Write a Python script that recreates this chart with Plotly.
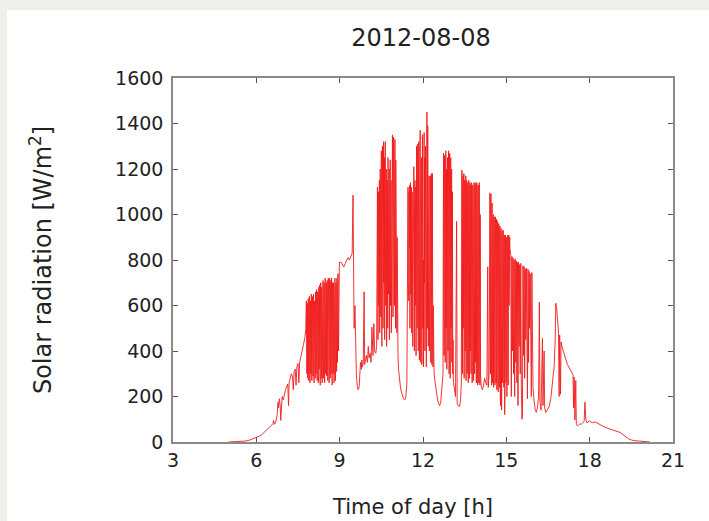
import plotly.graph_objects as go

# (hour, W/m2) readings, segment by segment
dawn = [(5.00, 0), (5.20, 1), (5.40, 2), (5.60, 4), (5.75, 8), (5.90, 14), (6.00, 18),
        (6.10, 25), (6.20, 33), (6.30, 45), (6.40, 58), (6.50, 68), (6.55, 72), (6.60, 80),
        (6.62, 95), (6.65, 78), (6.70, 88), (6.75, 120), (6.78, 175), (6.80, 150),
        (6.83, 190), (6.86, 160), (6.88, 95), (6.90, 175), (6.93, 200), (6.97, 185),
        (7.00, 210), (7.05, 230), (7.10, 245), (7.13, 255), (7.16, 160), (7.18, 260),
        (7.22, 280), (7.26, 300), (7.30, 290), (7.33, 230), (7.36, 310), (7.40, 320),
        (7.43, 250), (7.46, 330), (7.50, 345), (7.53, 260), (7.56, 350), (7.60, 370),
        (7.65, 400), (7.70, 430), (7.75, 460), (7.78, 500)]

morning = [(7.80, 620), (7.81, 480), (7.82, 300), (7.83, 560), (7.84, 610), (7.85, 280),
           (7.86, 420), (7.87, 630), (7.88, 350), (7.89, 270), (7.90, 590), (7.91, 640),
           (7.92, 400), (7.93, 260), (7.94, 520), (7.95, 620), (7.96, 300), (7.97, 450),
           (7.98, 650), (7.99, 330), (8.00, 270), (8.01, 600), (8.02, 640), (8.03, 380),
           (8.04, 290), (8.05, 560), (8.06, 650), (8.07, 300), (8.08, 260), (8.09, 620),
           (8.10, 600), (8.11, 420), (8.12, 280), (8.13, 660), (8.14, 500), (8.15, 300),
           (8.16, 640), (8.17, 670), (8.18, 350), (8.19, 270), (8.20, 600), (8.21, 660),
           (8.22, 400), (8.23, 260), (8.24, 640), (8.25, 680), (8.26, 320), (8.27, 500),
           (8.28, 690), (8.29, 300), (8.30, 250), (8.31, 650), (8.32, 700), (8.33, 420),
           (8.34, 280), (8.35, 680), (8.36, 610), (8.37, 260), (8.38, 560), (8.39, 700),
           (8.40, 710), (8.41, 350), (8.42, 280), (8.43, 640), (8.44, 700), (8.45, 450),
           (8.46, 260), (8.47, 690), (8.48, 720), (8.49, 380), (8.50, 300), (8.51, 660),
           (8.52, 700), (8.53, 290), (8.54, 500), (8.55, 710), (8.56, 640), (8.57, 270),
           (8.58, 420), (8.59, 720), (8.60, 690), (8.61, 330), (8.62, 260), (8.63, 700),
           (8.64, 720), (8.65, 400), (8.66, 280), (8.67, 650), (8.68, 710), (8.69, 300),
           (8.70, 560), (8.71, 720), (8.72, 350), (8.73, 250), (8.74, 680), (8.75, 700),
           (8.76, 460), (8.77, 300), (8.78, 700), (8.79, 640), (8.80, 260), (8.81, 380),
           (8.82, 690), (8.83, 720), (8.84, 300), (8.85, 270), (8.86, 660), (8.87, 700),
           (8.88, 420), (8.89, 310), (8.90, 720), (8.91, 680), (8.92, 350), (8.93, 480),
           (8.94, 740), (8.95, 560), (8.96, 400), (8.97, 760), (8.98, 780), (8.99, 790)]

late_morning = [(9.05, 790), (9.10, 780), (9.15, 770), (9.20, 785), (9.25, 800), (9.30, 810),
                (9.35, 800), (9.40, 820), (9.45, 830), (9.48, 1085), (9.50, 840), (9.52, 500),
                (9.55, 600), (9.57, 380), (9.60, 300), (9.63, 250), (9.66, 230), (9.70, 240),
                (9.72, 300), (9.75, 350), (9.78, 320), (9.80, 360), (9.82, 330), (9.85, 350),
                (9.88, 660), (9.90, 340), (9.93, 360), (9.96, 380), (10.00, 350), (10.03, 420),
                (10.06, 370), (10.10, 390), (10.13, 350), (10.16, 505), (10.20, 380),
                (10.23, 520), (10.26, 400), (10.30, 390), (10.33, 420)]

forenoon = [(10.35, 1000), (10.36, 1120), (10.37, 700), (10.38, 450), (10.39, 1050),
            (10.40, 1100), (10.41, 600), (10.42, 900), (10.43, 1150), (10.44, 480),
            (10.45, 800), (10.46, 1200), (10.47, 1000), (10.48, 550), (10.49, 1100),
            (10.50, 1280), (10.51, 650), (10.52, 420), (10.53, 1000), (10.54, 1300),
            (10.55, 900), (10.56, 500), (10.57, 1150), (10.58, 1320), (10.59, 700),
            (10.60, 1050), (10.61, 1250), (10.62, 450), (10.63, 1000), (10.64, 1320),
            (10.65, 800), (10.66, 600), (10.67, 1100), (10.68, 1200), (10.69, 420),
            (10.70, 900), (10.71, 1150), (10.72, 1000), (10.73, 500), (10.74, 1250),
            (10.75, 1100), (10.76, 650), (10.77, 1000), (10.78, 1200), (10.79, 450),
            (10.80, 1100), (10.81, 850), (10.82, 1240), (10.83, 600), (10.84, 1000),
            (10.85, 1150), (10.86, 480), (10.87, 900), (10.88, 1200), (10.89, 700),
            (10.90, 1350), (10.91, 1100), (10.92, 550), (10.93, 1000), (10.94, 1340),
            (10.95, 800), (10.96, 1200), (10.97, 600), (10.98, 1100), (10.99, 1330),
            (11.00, 700), (11.01, 500), (11.02, 1240), (11.03, 900), (11.04, 620),
            (11.05, 1100), (11.06, 480), (11.07, 900), (11.08, 650), (11.09, 420),
            (11.10, 380), (11.12, 320), (11.14, 290), (11.18, 250), (11.22, 220),
            (11.26, 200), (11.30, 190), (11.34, 185), (11.38, 195), (11.42, 260)]

noon = [(11.46, 1120), (11.47, 700), (11.48, 1000), (11.49, 620), (11.50, 1100), (11.51, 850),
        (11.52, 1130), (11.53, 500), (11.54, 900), (11.55, 1140), (11.56, 650), (11.57, 1000),
        (11.58, 1120), (11.59, 480), (11.60, 800), (11.61, 1100), (11.62, 900), (11.63, 420),
        (11.64, 1000), (11.65, 1130), (11.66, 700), (11.67, 1210), (11.68, 900), (11.69, 400),
        (11.70, 1050), (11.71, 1150), (11.72, 600), (11.73, 1000), (11.74, 1120), (11.75, 380),
        (11.76, 900), (11.77, 1300), (11.78, 1100), (11.79, 500), (11.80, 1250), (11.81, 1310),
        (11.82, 700), (11.83, 400), (11.84, 1200), (11.85, 1320), (11.86, 1000), (11.87, 360),
        (11.88, 800), (11.89, 1300), (11.90, 1370), (11.91, 600), (11.92, 350), (11.93, 1100),
        (11.94, 1250), (11.95, 900), (11.96, 340), (11.97, 1000), (11.98, 1350), (11.99, 500),
        (12.00, 1200), (12.01, 800), (12.02, 330), (12.03, 1100), (12.04, 1360), (12.05, 700),
        (12.06, 1250), (12.07, 400), (12.08, 1000), (12.09, 1300), (12.10, 600), (12.11, 1200),
        (12.12, 330), (12.13, 900), (12.14, 1450), (12.15, 1200), (12.16, 500), (12.17, 1390),
        (12.18, 1000), (12.19, 420), (12.20, 1100), (12.21, 800), (12.22, 1170), (12.23, 400),
        (12.24, 900), (12.25, 1150), (12.26, 650), (12.27, 1170), (12.28, 350), (12.29, 1000),
        (12.30, 1180), (12.31, 600), (12.32, 340), (12.33, 950), (12.34, 1180), (12.35, 400),
        (12.36, 330), (12.37, 600), (12.38, 320), (12.40, 300), (12.44, 260), (12.48, 220),
        (12.52, 190), (12.56, 170), (12.60, 160), (12.64, 175), (12.68, 230), (12.71, 300)]

early_afternoon = [(12.72, 300), (12.73, 900), (12.74, 1270), (12.75, 600), (12.76, 380),
                   (12.77, 1000), (12.78, 1260), (12.79, 800), (12.80, 350), (12.81, 1100),
                   (12.82, 1280), (12.83, 500), (12.84, 900), (12.85, 1200), (12.86, 320),
                   (12.87, 700), (12.88, 1250), (12.89, 1000), (12.90, 400), (12.91, 1100),
                   (12.92, 1280), (12.93, 600), (12.94, 300), (12.95, 1000), (12.96, 1270),
                   (12.97, 800), (12.98, 280), (12.99, 1200), (13.00, 1250), (13.01, 500),
                   (13.02, 900), (13.03, 1200), (13.04, 350), (13.05, 700), (13.06, 1100),
                   (13.07, 300), (13.08, 450), (13.09, 280), (13.10, 260), (13.13, 230),
                   (13.17, 200), (13.21, 970), (13.23, 170), (13.27, 160), (13.31, 155),
                   (13.35, 180), (13.38, 260)]

afternoon = [(13.40, 1195), (13.41, 700), (13.42, 300), (13.43, 1100), (13.44, 1170),
             (13.45, 500), (13.46, 900), (13.47, 1180), (13.48, 280), (13.49, 600),
             (13.50, 1150), (13.51, 1050), (13.52, 400), (13.53, 1100), (13.54, 1170),
             (13.55, 270), (13.56, 800), (13.57, 1150), (13.58, 950), (13.59, 300),
             (13.60, 1100), (13.61, 1140), (13.62, 500), (13.63, 260), (13.64, 1000),
             (13.65, 1150), (13.66, 700), (13.67, 280), (13.68, 1100), (13.69, 1140),
             (13.70, 400), (13.71, 900), (13.72, 1130), (13.73, 300), (13.74, 600),
             (13.75, 1140), (13.76, 1050), (13.77, 260), (13.78, 800), (13.79, 1130),
             (13.80, 1100), (13.81, 450), (13.82, 270), (13.83, 1000), (13.84, 1140),
             (13.85, 600), (13.86, 300), (13.87, 1120), (13.88, 1140), (13.89, 350),
             (13.90, 900), (13.91, 1130), (13.92, 260), (13.93, 700), (13.94, 1140),
             (13.95, 1100), (13.96, 400), (13.97, 250), (13.98, 1000), (13.99, 1130),
             (14.00, 500), (14.01, 260), (14.02, 1100), (14.03, 1140), (14.04, 600),
             (14.05, 250), (14.06, 1000), (14.07, 300), (14.10, 240), (14.14, 230),
             (14.18, 250), (14.22, 280), (14.26, 260), (14.30, 250), (14.33, 770),
             (14.35, 240), (14.38, 300)]

mid_afternoon = [(14.40, 1000), (14.41, 1095), (14.42, 700), (14.43, 300), (14.44, 1080),
                 (14.45, 1090), (14.46, 400), (14.47, 250), (14.48, 1000), (14.49, 1050),
                 (14.50, 600), (14.51, 260), (14.52, 990), (14.53, 1000), (14.54, 240),
                 (14.55, 500), (14.56, 990), (14.57, 980), (14.58, 300), (14.59, 250),
                 (14.60, 970), (14.61, 990), (14.62, 700), (14.63, 260), (14.64, 960),
                 (14.65, 980), (14.66, 230), (14.67, 400), (14.68, 970), (14.69, 960),
                 (14.70, 250), (14.71, 220), (14.72, 950), (14.73, 960), (14.74, 600),
                 (14.75, 240), (14.76, 940), (14.77, 950), (14.78, 200), (14.79, 160),
                 (14.80, 930), (14.81, 940), (14.82, 500), (14.83, 140), (14.84, 920),
                 (14.85, 930), (14.86, 260), (14.87, 300), (14.88, 910), (14.89, 930),
                 (14.90, 700), (14.91, 240), (14.92, 900), (14.93, 910), (14.94, 120),
                 (14.95, 200), (14.96, 900), (14.97, 910), (14.98, 400), (14.99, 260),
                 (15.00, 890), (15.01, 900), (15.02, 200), (15.03, 500), (15.04, 900),
                 (15.05, 910), (15.06, 300), (15.07, 250), (15.08, 900), (15.09, 910),
                 (15.10, 600), (15.11, 880), (15.12, 900), (15.13, 850), (15.14, 840)]

late_afternoon = [(15.16, 820), (15.18, 200), (15.20, 815), (15.22, 400), (15.24, 810),
                  (15.26, 300), (15.28, 800), (15.30, 200), (15.32, 805), (15.34, 350),
                  (15.36, 795), (15.38, 260), (15.40, 790), (15.42, 160), (15.44, 790),
                  (15.46, 420), (15.48, 780), (15.50, 300), (15.52, 785), (15.54, 250),
                  (15.56, 100), (15.58, 110), (15.60, 775), (15.62, 380), (15.64, 770),
                  (15.66, 280), (15.68, 760), (15.70, 450), (15.72, 765), (15.74, 300),
                  (15.76, 190), (15.78, 760), (15.80, 350), (15.82, 750), (15.84, 500),
                  (15.86, 740), (15.88, 300), (15.90, 200), (15.92, 745),
                  (15.94, 450), (15.96, 240), (16.00, 180), (16.04, 140), (16.08, 130),
                  (16.12, 150), (16.16, 200), (16.19, 615), (16.21, 180), (16.25, 140),
                  (16.30, 455), (16.32, 160), (16.36, 400), (16.38, 150), (16.42, 130),
                  (16.48, 140), (16.54, 155), (16.60, 190), (16.66, 250), (16.72, 330)]

evening = [(16.76, 450), (16.78, 610), (16.81, 590), (16.84, 540), (16.88, 480), (16.90, 200),
           (16.92, 470), (16.95, 210), (16.97, 440), (17.00, 420), (17.05, 400), (17.10, 370),
           (17.15, 350), (17.20, 340), (17.25, 330), (17.30, 320), (17.35, 305), (17.40, 295),
           (17.42, 150), (17.44, 285), (17.47, 97), (17.50, 270), (17.52, 75), (17.56, 72),
           (17.60, 75), (17.65, 80), (17.70, 78), (17.75, 85), (17.80, 90), (17.83, 175),
           (17.86, 100), (17.90, 85), (17.95, 90), (18.00, 92), (18.05, 88), (18.10, 85),
           (18.20, 88), (18.30, 80), (18.40, 75), (18.50, 68), (18.60, 62), (18.70, 58),
           (18.80, 54), (18.90, 50), (19.00, 48), (19.10, 42), (19.20, 32), (19.30, 22),
           (19.40, 14), (19.50, 9), (19.60, 6), (19.80, 4), (20.00, 2), (20.17, 0)]

segments = [dawn, morning, late_morning, forenoon, noon, early_afternoon,
            afternoon, mid_afternoon, late_afternoon, evening]
hours = [t for seg in segments for t, _ in seg]
radiation = [v for seg in segments for _, v in seg]

x_ticks = [3, 6, 9, 12, 15, 18, 21]
y_ticks = [0, 200, 400, 600, 800, 1000, 1200, 1400, 1600]

FONT = "DejaVu Sans"
TXT = "#222222"
fig = go.Figure()
fig.add_trace(go.Scatter(x=hours, y=radiation, mode="lines",
                         line=dict(color="#f01c1c", width=0.9), showlegend=False))

# plot area: x 173..673 px, y 78..442 px
L, R, T, B = 173, 709 - 673, 78, 521 - 442
pw, ph = 709 - L - R, 521 - T - B
fig.add_shape(type="rect", xref="paper", yref="paper",
              x0=(7 - L) / pw, x1=(712 - L) / pw,
              y0=-(524 - (T + ph)) / ph, y1=(T + ph - 10) / ph,
              fillcolor="white", line=dict(width=0), layer="below")

# x-axis title placed as in the reference (centred at x=412 px, y=507 px)
fig.add_annotation(text="Time of day [h]", xref="paper", yref="paper",
                   x=(412 - L) / pw, y=(T + ph - 507) / ph,
                   xanchor="center", yanchor="middle", showarrow=False,
                   font=dict(family=FONT, size=21, color=TXT))

axis_common = dict(showgrid=False, zeroline=False, showline=True, mirror="ticks",
                   linecolor="#8a8a8a", linewidth=1.5, ticks="inside", ticklen=5,
                   tickcolor="#555555", tickwidth=1,
                   tickfont=dict(family=FONT, size=19, color=TXT))

fig.update_layout(
    width=709, height=521,
    margin=dict(l=L, r=R, t=T, b=B, autoexpand=False),
    paper_bgcolor="#efeeea", plot_bgcolor="white",
    title=dict(text="2012-08-08", x=421 / 709, xanchor="center",
               y=1 - 38 / 521, yanchor="middle",
               font=dict(family=FONT, size=24, color=TXT)),
    xaxis=dict(range=[3, 21], tickvals=x_ticks, ticktext=[str(v) for v in x_ticks],
               automargin=False, **axis_common),
    yaxis=dict(range=[0, 1600], tickvals=y_ticks, ticktext=[str(v) for v in y_ticks],
               title=dict(text="Solar radiation [W/m<sup>2</sup>]", standoff=57,
                          font=dict(family=FONT, size=24, color=TXT)),
               automargin=False, ticklabelstandoff=4, **axis_common),
)

fig.write_html("out.html", config={"displayModeBar": False},
               post_script="document.body.style.margin='0';"
                           "document.body.style.background='#efeeea';")
